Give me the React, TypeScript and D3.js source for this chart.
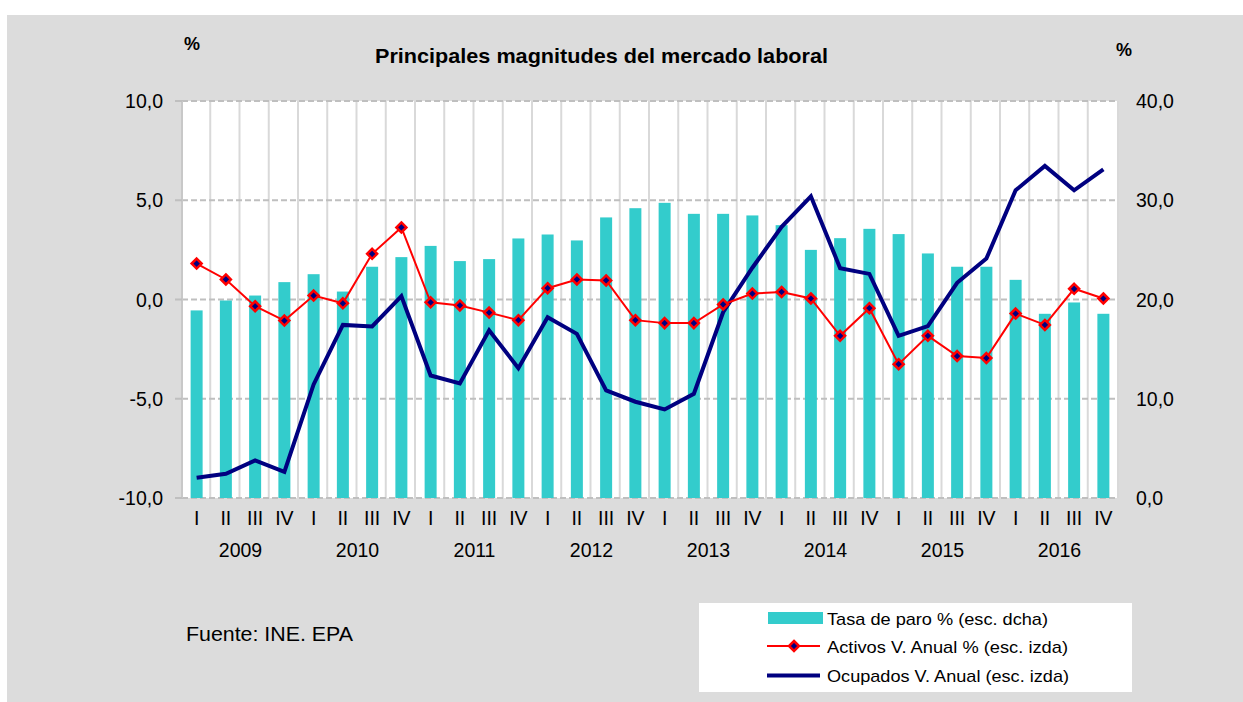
import React from "react";
import * as d3 from "d3";

const quarters = ["I", "II", "III", "IV"];
const years = ["2009", "2010", "2011", "2012", "2013", "2014", "2015", "2016"];

// Tasa de paro % (right axis)
const tasaParo = [
  18.9, 19.9, 20.4, 21.75, 22.55, 20.8, 23.3, 24.27,
  25.4, 23.87, 24.07, 26.15, 26.55, 25.95, 28.27, 29.2,
  29.74, 28.63, 28.63, 28.47, 27.49, 25.0, 26.18, 27.12,
  26.59, 24.64, 23.3, 23.3, 21.98, 18.56, 19.7, 18.56,
];

// Activos V. Anual % (left axis)
const activos = [
  1.81, 1.01, -0.34, -1.06, 0.2, -0.19, 2.3, 3.63,
  -0.14, -0.3, -0.66, -1.04, 0.57, 1.01, 0.96, -1.04,
  -1.19, -1.19, -0.25, 0.3, 0.38, 0.05, -1.83, -0.44,
  -3.26, -1.83, -2.85, -2.95, -0.71, -1.28, 0.54, 0.05,
];

// Ocupados V. Anual (left axis)
const ocupados = [
  -8.98, -8.78, -8.11, -8.68, -4.28, -1.28, -1.36, 0.17,
  -3.83, -4.23, -1.55, -3.46, -0.89, -1.73, -4.58, -5.15,
  -5.54, -4.75, -0.64, 1.6, 3.66, 5.2, 1.58, 1.29,
  -1.83, -1.34, 0.84, 2.06, 5.5, 6.73, 5.5, 6.55,
];

const leftTicks = [-10, -5, 0, 5, 10];
const rightTicks = [0, 10, 20, 30, 40];

const fmt = (v: number) => v.toFixed(1).replace(".", ",");
const FONT = "'Liberation Sans', Arial, sans-serif";

export default function App() {
  const W = 1243;
  const H = 702;
  const left = 182;
  const right = 1118;
  const top = 101;
  const bottom = 498;

  const idx = tasaParo.map((_, i) => i);
  const x = d3.scaleBand<number>().domain(idx).range([left, right]).paddingInner(0);
  const bw = x.bandwidth();
  const cx = (i: number) => (x(i) as number) + bw / 2;
  const yL = d3.scaleLinear().domain([-10, 10]).range([bottom, top]);
  const yR = d3.scaleLinear().domain([0, 40]).range([bottom, top]);

  const lineL = d3
    .line<number>()
    .x((_, i) => cx(i))
    .y((d) => yL(d));

  const barW = 12;

  const diamond = (px: number, py: number, r: number) =>
    `M${px},${py - r}L${px + r},${py}L${px},${py + r}L${px - r},${py}Z`;

  return (
    <svg
      width={W}
      height={H}
      style={{ position: "absolute", left: 0, top: 0, display: "block" }}
      fontFamily={FONT}
    >
      <rect x={0} y={0} width={W} height={H} fill="#ffffff" />
      <rect x={7} y={15} width={W - 7} height={H - 15} fill="#dcdcdc" />

      {/* plot area */}
      <rect x={left} y={top} width={right - left} height={bottom - top} fill="#ffffff" />

      {/* vertical gridlines */}
      {idx.slice(1).map((i) => (
        <line
          key={"vg" + i}
          x1={(x(i) as number) - 1}
          x2={(x(i) as number) - 1}
          y1={top}
          y2={bottom}
          stroke="#d9d9d9"
          strokeWidth={2}
        />
      ))}
      <line x1={right} x2={right} y1={top} y2={bottom} stroke="#d9d9d9" strokeWidth={2} />

      {/* horizontal dashed gridlines */}
      {leftTicks.map((t) => (
        <line
          key={"hg" + t}
          x1={left}
          x2={right}
          y1={yL(t)}
          y2={yL(t)}
          stroke="#bfbfbf"
          strokeWidth={2}
          strokeDasharray="6,3"
        />
      ))}

      {/* left axis */}
      <line x1={left} x2={left} y1={top} y2={bottom} stroke="#c8c8c8" strokeWidth={2} />
      {leftTicks.map((t) => (
        <line
          key={"lt" + t}
          x1={left - 7}
          x2={left}
          y1={yL(t)}
          y2={yL(t)}
          stroke="#bfbfbf"
          strokeWidth={2}
        />
      ))}

      {/* bars */}
      {tasaParo.map((v, i) => (
        <rect
          key={"b" + i}
          x={cx(i) - barW / 2}
          y={yR(v)}
          width={barW}
          height={yR(0) - yR(v)}
          fill="#33cccc"
        />
      ))}

      {/* Ocupados line */}
      <path
        d={lineL(ocupados) as string}
        fill="none"
        stroke="#000080"
        strokeWidth={4}
        strokeLinejoin="miter"
      />

      {/* Activos line */}
      <path d={lineL(activos) as string} fill="none" stroke="#ff0000" strokeWidth={2} />
      {activos.map((v, i) => (
        <path
          key={"m" + i}
          d={diamond(cx(i), yL(v), 5)}
          fill="#000080"
          stroke="#ff0000"
          strokeWidth={2.5}
        />
      ))}

      {/* left tick labels */}
      {leftTicks.map((t) => (
        <text
          key={"ll" + t}
          x={163}
          y={yL(t) + 7}
          textAnchor="end"
          fontSize={19.5}
          fill="#000"
        >
          {fmt(t)}
        </text>
      ))}
      {/* right tick labels */}
      {rightTicks.map((t) => (
        <text
          key={"rl" + t}
          x={1136}
          y={yR(t) + 7}
          textAnchor="start"
          fontSize={19.5}
          fill="#000"
        >
          {fmt(t)}
        </text>
      ))}

      {/* quarter labels */}
      {idx.map((i) => (
        <text
          key={"q" + i}
          x={cx(i)}
          y={525}
          textAnchor="middle"
          fontSize={19.5}
          fill="#000"
        >
          {quarters[i % 4]}
        </text>
      ))}
      {/* year labels */}
      {years.map((yr, k) => (
        <text
          key={"y" + yr}
          x={((x(k * 4) as number) + (x(k * 4 + 3) as number) + bw) / 2}
          y={557}
          textAnchor="middle"
          fontSize={19.5}
          fill="#000"
        >
          {yr}
        </text>
      ))}

      {/* title & units */}
      <text
        x={375}
        y={62.5}
        fontSize={21}
        fontWeight="bold"
        fill="#000"
        textLength={453}
        lengthAdjust="spacingAndGlyphs"
      >
        Principales magnitudes del mercado laboral
      </text>
      <text x={184} y={50} fontSize={18} fontWeight="bold" fill="#000">
        %
      </text>
      <text x={1116} y={56} fontSize={18} fontWeight="bold" fill="#000">
        %
      </text>

      {/* source */}
      <text
        x={186}
        y={641}
        fontSize={21}
        fill="#000"
        textLength={167}
        lengthAdjust="spacingAndGlyphs"
      >
        Fuente: INE. EPA
      </text>

      {/* legend */}
      <rect x={699} y={603} width={433} height={89} fill="#ffffff" />
      <rect x={768} y={612} width={55} height={12} fill="#33cccc" />
      <text
        x={827}
        y={624.5}
        fontSize={17}
        fill="#000"
        textLength={221}
        lengthAdjust="spacingAndGlyphs"
      >
        Tasa de paro % (esc. dcha)
      </text>
      <line x1={767} x2={820} y1={646} y2={646} stroke="#ff0000" strokeWidth={2} />
      <path d={diamond(794, 646, 5)} fill="#000080" stroke="#ff0000" strokeWidth={2.5} />
      <text
        x={827}
        y={653}
        fontSize={17}
        fill="#000"
        textLength={241}
        lengthAdjust="spacingAndGlyphs"
      >
        Activos V. Anual % (esc. izda)
      </text>
      <line x1={767} x2={820} y1={675.5} y2={675.5} stroke="#000080" strokeWidth={4} />
      <text
        x={827}
        y={682}
        fontSize={17}
        fill="#000"
        textLength={242}
        lengthAdjust="spacingAndGlyphs"
      >
        Ocupados V. Anual (esc. izda)
      </text>
    </svg>
  );
}
